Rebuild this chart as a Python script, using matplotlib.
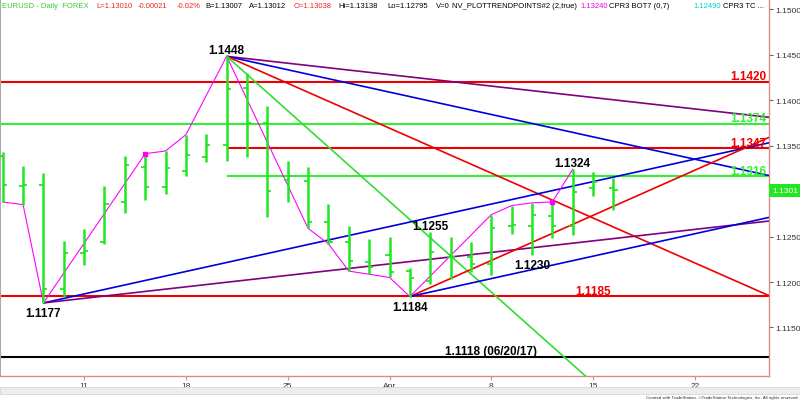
import matplotlib
matplotlib.use("Agg")
import matplotlib.pyplot as plt
from matplotlib.patches import Rectangle
import numpy as np
import pandas as pd

plt.rcParams["font.family"] = ["Liberation Sans", "DejaVu Sans"]

# EURUSD daily bars, 2019-03-05 .. 2019-04-16
dates = pd.bdate_range("2019-03-05", "2019-04-16")
opens = [1.1338, 1.1306, 1.1307, 1.1192, 1.1232, 1.1244, 1.1288, 1.1326, 1.1304, 1.1322,
         1.1337, 1.1351, 1.1413, 1.1375, 1.1312, 1.1311, 1.1266, 1.1244, 1.1222, 1.1230,
         1.1212, 1.1201, 1.1227, 1.1227, 1.1220, 1.1262, 1.1262, 1.1273, 1.1261, 1.1303,
         1.13038]
highs = [1.1343, 1.1328, 1.1320, 1.1245, 1.1258, 1.1305, 1.1339, 1.1341, 1.1344, 1.1362,
         1.1363, 1.1448, 1.1430, 1.1393, 1.1333, 1.1326, 1.1286, 1.1262, 1.1247, 1.1250,
         1.1215, 1.1255, 1.1250, 1.1244, 1.1274, 1.1284, 1.1287, 1.1288, 1.1324, 1.1321,
         1.13138]
lows = [1.1288, 1.1285, 1.1177, 1.1183, 1.1219, 1.1242, 1.1276, 1.1290, 1.1297, 1.1317,
        1.1332, 1.1333, 1.1337, 1.1271, 1.1288, 1.1259, 1.1242, 1.1212, 1.1209, 1.1205,
        1.1184, 1.1198, 1.1203, 1.1211, 1.1208, 1.1253, 1.1230, 1.1248, 1.1252, 1.1294,
        1.12795]
closes = [1.1307, 1.1307, 1.1192, 1.1232, 1.1234, 1.1286, 1.1329, 1.1304, 1.1325, 1.1340,
          1.1351, 1.1412, 1.1375, 1.1300, 1.1316, 1.1266, 1.1244, 1.1223, 1.1216, 1.1211,
          1.1204, 1.1233, 1.1228, 1.1220, 1.1259, 1.1263, 1.1274, 1.1261, 1.1299, 1.1310,
          1.13010]

# NV_PLOTTRENDPOINTS swing line: bar index and which end of the bar
swing_bars = [0, 1, 2, 7, 8, 9, 11, 15, 16, 17, 19, 20, 24, 25, 26, 27, 28]
swing_sides = ["L", "L", "L", "H", "H", "H", "H", "L", "L", "L", "L", "L", "H", "H", "H", "H", "H"]
pivot_bars = [7, 27]

# trendlines: anchor bar / price, price where they meet the right edge
trend_bars = [11, 11, 11, 11, 2, 2, 20, 20]
trend_prices = [1.1448, 1.1448, 1.1448, 1.1448, 1.1177, 1.1177, 1.1184, 1.1184]
trend_end_prices = [1.1381, 1.1317, 1.1185, 1.0917, 1.1353, 1.1267, 1.1359, 1.1271]
trend_colors = ["#800080", "#0000dd", "#ee0000", "#33dd33", "#0000dd", "#800080", "#ee0000", "#0000dd"]

# horizontal levels (start bar -1 = full width)
level_prices = [1.1420, 1.1374, 1.1347, 1.1316, 1.1185, 1.1118]
level_starts = [-1, -1, 11, 11, -1, -1]
level_colors = ["#ee0000", "#33ee33", "#ee0000", "#33ee33", "#ee0000", "#000000"]
edge_labels = ["1.1420", "1.1374", "1.1347", "1.1316"]
edge_label_colors = ["#ee0000", "#33ee33", "#ee0000", "#33ee33"]

# swing annotations
swing_label_bars = [11, 2, 20, 21, 26, 28]
swing_label_prices = [1.1448, 1.1177, 1.1184, 1.1255, 1.1230, 1.1324]
swing_label_above = [True, False, False, True, False, True]

BAR_GREEN = "#22e622"
AXIS_RED = "#d98c8c"
N_SLOTS = 38
X_LEFT, X_RIGHT = -0.133, 37.64

fig = plt.figure(figsize=(8, 4.02), dpi=100)
ax = fig.add_axes([0, 25 / 402, 769 / 800, 377 / 402])
ax.set_xlim(X_LEFT, X_RIGHT)
ax.set_ylim(1.10967, 1.15110)

# levels
for price, start, color in zip(level_prices, level_starts, level_colors):
    x0 = X_LEFT if start < 0 else start
    ax.hlines(price, x0, X_RIGHT, color=color, lw=1.5, zorder=2)

for text, price, color in zip(edge_labels, level_prices, edge_label_colors):
    ax.annotate(text, xy=(0.997, price), xycoords=ax.get_yaxis_transform(),
                xytext=(0, 1.8), textcoords="offset points", ha="right", va="baseline",
                fontsize=8.5, fontweight="bold", color=color, zorder=6)

ax.annotate("1.1185", xy=(29, 1.1185), xytext=(0, 1.0), textcoords="offset points",
            ha="center", va="baseline", fontsize=8.5, fontweight="bold", color="#ee0000")
ax.annotate("1.1118 (06/20/17)", xy=(24, 1.1118), xytext=(0, 1.8), textcoords="offset points",
            ha="center", va="baseline", fontsize=8.5, fontweight="bold", color="black")

# trendlines
for b, p, pe, color in zip(trend_bars, trend_prices, trend_end_prices, trend_colors):
    ax.plot([b, X_RIGHT], [p, pe], color=color, lw=1.2, zorder=3, solid_capstyle="butt")

# swing line
swing_y = [highs[b] if s == "H" else lows[b] for b, s in zip(swing_bars, swing_sides)]
ax.plot(swing_bars, swing_y, color="#ff00ff", lw=0.8, zorder=4)
ax.plot(pivot_bars, [highs[b] for b in pivot_bars], "s", color="#ff00ff", ms=2.8, zorder=5)

# OHLC bars
x = np.arange(len(dates))
tick_w = 0.2
ax.vlines(x, lows, highs, color=BAR_GREEN, lw=1.8, zorder=4.5)
ax.hlines(opens, x - tick_w, x, color=BAR_GREEN, lw=1.3, zorder=4.5)
ax.hlines(closes, x, x + tick_w, color=BAR_GREEN, lw=1.3, zorder=4.5)

for b, p, above in zip(swing_label_bars, swing_label_prices, swing_label_above):
    ax.annotate(f"{p:.4f}", xy=(b, p), xytext=(0, 0 if above else -3), textcoords="offset points",
                ha="center", va="bottom" if above else "top", fontsize=8.5,
                fontweight="bold", color="black", zorder=6)

# axes styling
full_dates = pd.bdate_range("2019-03-05", periods=N_SLOTS)
mondays = [i for i, d in enumerate(full_dates) if d.weekday() == 0]
ax.set_xticks(mondays)
ax.set_xticklabels([full_dates[i].strftime("%b") if full_dates[i].day <= 7 and full_dates[i].month != 3
                    else str(full_dates[i].day) for i in mondays])
yt = np.arange(1.115, 1.1501, 0.005)
ax.set_yticks(yt)
# the 1.1300 label sits under the last-price box
ax.set_yticklabels(["" if abs(v - 1.13) < 1e-6 else f"{v:.4f}" for v in yt])
ax.yaxis.tick_right()
ax.tick_params(axis="both", labelsize=6, colors="#333333", length=3, width=0.8, pad=1.5)
ax.tick_params(axis="x", color=AXIS_RED)
ax.tick_params(axis="y", color="#666666")
ax.spines["top"].set_visible(False)
ax.spines["left"].set_color("#aaaaaa")
ax.spines["left"].set_linewidth(0.8)
for side in ("right", "bottom"):
    ax.spines[side].set_color(AXIS_RED)
    ax.spines[side].set_linewidth(1.0)

# last price box
ax.annotate(f"{closes[-1]:.4f}", xy=(1.0, closes[-1]), xycoords=ax.get_yaxis_transform(),
            xytext=(2.2, 0), textcoords="offset points", ha="left", va="center",
            fontsize=6, color="white", annotation_clip=False, zorder=10,
            bbox=dict(boxstyle="square,pad=0.35", fc="#22e622", ec="none"))

# header line
header = [("EURUSD - Daily  FOREX", "#33cc33", 2), ("L=1.13010", "#ee2222", 96),
          ("-0.00021", "#ee2222", 138), ("-0.02%", "#ee2222", 177),
          ("B=1.13007", "black", 205), ("A=1.13012", "black", 249),
          ("O=1.13038", "#ee2222", 294), ("Hi=1.13138", "black", 338),
          ("Lo=1.12795", "black", 387), ("V=0", "black", 436),
          ("NV_PLOTTRENDPOINTS#2 (2,true)", "black", 452), ("1.13240", "#ee00ee", 580),
          ("CPR3 BOT7 (0,7)", "black", 609), ("1.12490", "#00cccc", 693),
          ("CPR3 TC ...", "black", 723)]
for text, color, px in header:
    fig.text(px / 800, 1 - 6 / 402, text, color=color, fontsize=5.5, ha="left", va="center")

# scrollbar strip and footer
fig.patches.append(Rectangle((0, 7 / 402), 1, 7 / 402, transform=fig.transFigure,
                             fc="#ededed", ec="#d6d6d6", lw=0.6))
fig.text(0.998, 1.5 / 402, "Created with TradeStation. \u00a9TradeStation Technologies, Inc. All rights reserved.",
         fontsize=3.2, ha="right", va="bottom", color="#333333")

fig.savefig("out.png", dpi=100)
